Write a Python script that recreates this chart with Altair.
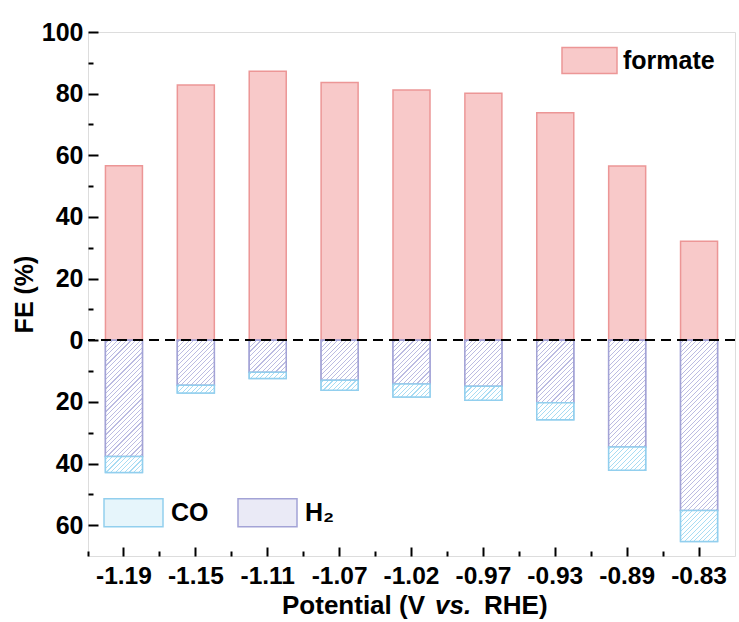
import altair as alt

# ---- data ----
categories = ["-1.19", "-1.15", "-1.11", "-1.07", "-1.02", "-0.97", "-0.93", "-0.89", "-0.83"]
formate = [56.6, 82.8, 87.3, 83.6, 81.2, 80.1, 73.8, 56.5, 32.1]
h2 = [37.7, 14.6, 10.4, 13.0, 14.2, 14.9, 20.3, 34.6, 55.2]
co = [5.2, 2.5, 2.0, 3.2, 4.2, 4.6, 5.5, 7.6, 10.1]

series_names = ["CO", "H₂"]
y_major = [-60, -40, -20, 0, 20, 40, 60, 80, 100]
y_minor = [-50, -30, -10, 10, 30, 50, 70, 90]
title_parts = ["Potential (V", "vs.", "RHE)"]

# ---- styling ----
FONT = "Liberation Sans"
W_PLOT, H_PLOT = 647, 524
Y_DOMAIN = [-70, 100]
BAR_W = 37
FORMATE_FILL, FORMATE_STROKE = "#f8c9c9", "#ec9696"
H2_FILL, H2_STROKE, H2_LINE = "#eaeaf6", "#a3a3d6", "#bcbce2"
CO_FILL, CO_STROKE, CO_LINE = "#e6f5fb", "#92cfee", "#a8dcf3"
PPU = H_PLOT / (Y_DOMAIN[1] - Y_DOMAIN[0])


def hatch(height_px, line_color, period=4.6, lw=1.1):
    """45-degree hatch as a linear gradient in bounding-box units."""
    W, H = float(BAR_W), max(height_px, 0.5)
    S = W + H
    k = S * W / (W * W + H * H)
    stops = [{"offset": 0, "color": "#ffffff"}]
    a = period / 2
    while a + lw < S:
        o1, o2 = round(a / S, 5), round((a + lw) / S, 5)
        stops += [{"offset": o1, "color": "#ffffff"}, {"offset": o1, "color": line_color},
                  {"offset": o2, "color": line_color}, {"offset": o2, "color": "#ffffff"}]
        a += period
    stops.append({"offset": 1, "color": "#ffffff"})
    return {"gradient": "linear", "x1": 0, "y1": 0, "x2": round(k, 5),
            "y2": round(k * H / W, 5), "stops": stops}


formate_rows = [{"potential": c, "FE": v, "series": "formate"} for c, v in zip(categories, formate)]
neg_rows = []
for c, a, b in zip(categories, h2, co):
    neg_rows.append({"potential": c, "start": 0.0, "end": -a, "series": series_names[1],
                     "grad": hatch(a * PPU, H2_LINE), "edge": H2_STROKE})
    neg_rows.append({"potential": c, "start": -a, "end": -(a + b), "series": series_names[0],
                     "grad": hatch(b * PPU, CO_LINE), "edge": CO_STROKE})

xscale = alt.Scale(domain=categories, paddingInner=0, paddingOuter=0)
yscale = alt.Scale(domain=Y_DOMAIN, nice=False, zero=False)
rect_path = "M-1,-0.475H1V0.475H-1Z"

lab = dict(labelFont=FONT, labelFontSize=25, labelFontWeight="bold", labelColor="black")
xlab = dict(labelFont=FONT, labelFontSize=24.5, labelFontWeight="bold", labelColor="black")

formate_legend = alt.Legend(orient="none", legendX=473, legendY=0, title=None,
                            symbolType=rect_path, symbolSize=3025, symbolStrokeWidth=1.5,
                            labelOffset=5, padding=0, **lab)

formate_layer = alt.Chart(alt.Data(values=formate_rows)).mark_bar(size=BAR_W, strokeWidth=1.5).encode(
    x=alt.X("potential:N", sort=categories, scale=xscale,
            axis=alt.Axis(title=None, orient="bottom", labelAngle=0, domain=False,
                          offset=-9, tickSize=9, tickWidth=2, tickColor="black",
                          labelPadding=8, **xlab)),
    y=alt.Y("FE:Q", scale=yscale,
            axis=alt.Axis(title="FE (%)", orient="left", values=y_major,
                          labelExpr="'' + abs(datum.value)",
                          domain=False, grid=False, offset=-10, tickSize=10, tickWidth=2,
                          tickColor="black", labelPadding=5,
                          titleFont=FONT, titleFontSize=25, titleFontWeight="bold",
                          titleColor="black", titlePadding=4, **lab)),
    fill=alt.Fill("series:N", scale=alt.Scale(domain=["formate"], range=[FORMATE_FILL]),
                  legend=formate_legend),
    stroke=alt.Stroke("series:N", scale=alt.Scale(domain=["formate"], range=[FORMATE_STROKE]),
                      legend=formate_legend),
)

neg_legend = alt.Legend(orient="none", legendX=15, legendY=450, title=None, direction="horizontal",
                        symbolType=rect_path, symbolSize=3481, symbolStrokeWidth=1.5,
                        labelOffset=7, columnPadding=26, padding=0, **lab)

neg_base = alt.Chart(alt.Data(values=neg_rows)).mark_bar(size=BAR_W, strokeWidth=1.5).encode(
    x=alt.X("potential:N", sort=categories, scale=xscale,
            axis=alt.Axis(title=None, orient="bottom", labels=False, domain=False, bandPosition=0,
                          offset=-5, tickSize=5, tickWidth=2, tickColor="black")),
    y=alt.Y("start:Q", scale=yscale,
            axis=alt.Axis(title=None, orient="left", labels=False, values=y_minor, domain=False,
                          grid=False, offset=-5, tickSize=5, tickWidth=2, tickColor="black")),
    y2="end:Q",
    fill=alt.Fill("series:N", scale=alt.Scale(domain=series_names, range=[CO_FILL, H2_FILL]),
                  sort=series_names, legend=neg_legend),
    stroke=alt.Stroke("series:N", scale=alt.Scale(domain=series_names, range=[CO_STROKE, H2_STROKE]),
                      sort=series_names, legend=neg_legend),
)

neg_hatch = alt.Chart(alt.Data(values=neg_rows)).mark_bar(size=BAR_W, strokeWidth=1.5).encode(
    x=alt.X("potential:N", sort=categories, scale=xscale, axis=None),
    y=alt.Y("start:Q", scale=yscale, axis=None),
    y2="end:Q",
    fill=alt.Fill("grad:N", scale=None, legend=None),
    stroke=alt.Stroke("edge:N", scale=None, legend=None),
)

zero_rule = alt.Chart(alt.Data(values=formate_rows)).mark_rule(
    color="black", strokeWidth=1.6, strokeDash=[10, 6]
).encode(y=alt.datum(0, scale=yscale, axis=None))

title_style = dict(font=FONT, fontSize=26, fontWeight="bold", color="black",
                   align="left", baseline="alphabetic")
t1 = alt.Chart(alt.Data(values=[{"t": title_parts[0]}])).mark_text(**title_style).encode(
    text="t:N", x=alt.value(194), y=alt.value(582))
t2 = alt.Chart(alt.Data(values=[{"t": title_parts[1]}])).mark_text(fontStyle="italic", **title_style).encode(
    text="t:N", x=alt.value(347), y=alt.value(582))
t3 = alt.Chart(alt.Data(values=[{"t": title_parts[2]}])).mark_text(**title_style).encode(
    text="t:N", x=alt.value(396), y=alt.value(582))

chart = alt.layer(formate_layer, neg_base, neg_hatch, zero_rule, t1, t2, t3).resolve_scale(
    fill="independent", stroke="independent"
).resolve_axis(
    x="independent", y="independent"
).properties(
    width=W_PLOT, height=H_PLOT, autosize="none",
    padding={"left": 88, "top": 32, "right": 4, "bottom": 66},
).configure_view(
    stroke="black", strokeWidth=2
).configure(background="white")

chart.save("out.html", embed_options={"renderer": "svg", "actions": False})
